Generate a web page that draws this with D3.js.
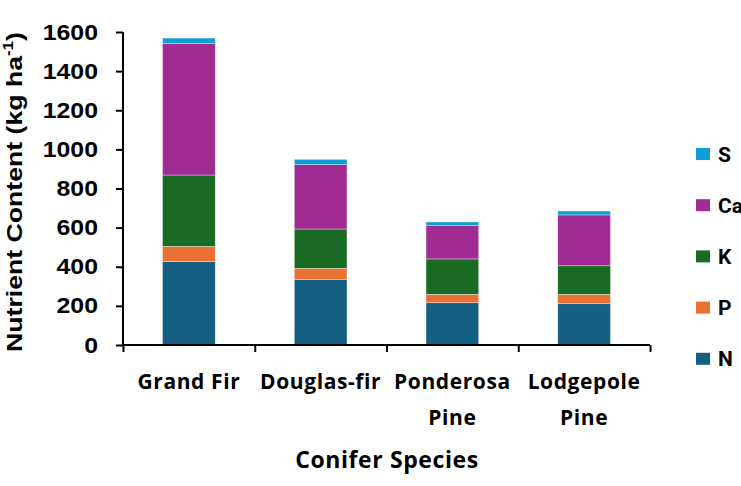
<!DOCTYPE html>
<html>
<head>
<meta charset="utf-8">
<script src="https://cdn.jsdelivr.net/npm/d3@7"></script>
<style>
  html, body { margin: 0; padding: 0; background: #fff; }
  svg { display: block; }
</style>
</head>
<body>
<svg id="chart" width="741" height="486"></svg>
<script>
const categories = ["Grand Fir", "Douglas-fir", "Ponderosa Pine", "Lodgepole Pine"];
const categoryLines = [["Grand Fir"], ["Douglas-fir"], ["Ponderosa", "Pine"], ["Lodgepole", "Pine"]];
const seriesNames = ["N", "P", "K", "Ca", "S"];
const N  = [426, 336, 216, 211];
const P  = [78, 56, 43, 48];
const K  = [365, 201, 181, 146];
const Ca = [673, 329, 170, 260];
const S  = [27, 27, 19, 20];
const yTicks = [0, 200, 400, 600, 800, 1000, 1200, 1400, 1600];
const colors = {N: "#156082", P: "#E97132", K: "#196B24", Ca: "#A02B93", S: "#0F9ED5"};

const seriesValues = {N, P, K, Ca, S};
const rows = categories.map((c, i) => {
  const r = {category: c};
  seriesNames.forEach(s => r[s] = seriesValues[s][i]);
  return r;
});

const svg = d3.select("#chart");
const x0 = 123, x1 = 650, yBottom = 345, yTop = 32;

const x = d3.scaleBand().domain(categories).range([x0, x1]).paddingInner(0.6).paddingOuter(0.3);
const xEdge = d3.scaleLinear().domain([0, categories.length]).range([x0, x1]);
const y = d3.scaleLinear().domain([0, 1600]).range([yBottom, yTop]);

const stack = d3.stack().keys(seriesNames)(rows);

svg.append("g").selectAll("g").data(stack).join("g")
  .attr("fill", d => colors[d.key])
  .selectAll("rect").data(d => d).join("rect")
  .attr("x", d => x(d.data.category))
  .attr("width", x.bandwidth())
  .attr("y", d => y(d[1]))
  .attr("height", d => y(d[0]) - y(d[1]))
  .attr("stroke", "#ffffff")
  .attr("stroke-opacity", 0.6)
  .attr("stroke-width", 0.6);

// Y axis
const sx = 1.13;
const yAxis = svg.append("g").attr("transform", `translate(${x0},0)`)
  .call(d3.axisLeft(y).tickValues(yTicks).tickSize(7).tickPadding(8).tickFormat(d3.format("d")));
yAxis.select(".domain").attr("stroke", "#000").attr("stroke-width", 2).attr("d", `M0,${yTop}V${yBottom}`);
yAxis.selectAll(".tick line").attr("stroke", "#000").attr("stroke-width", 2);
yAxis.selectAll(".tick text")
  .attr("fill", "#000")
  .style("font-family", "'Liberation Sans', Arial, sans-serif")
  .style("font-weight", "bold")
  .style("font-size", "22px")
  .attr("x", -25 / sx)
  .attr("transform", `scale(${sx},1)`);

// X axis (boundary ticks)
const xAxis = svg.append("g").attr("transform", `translate(0,${yBottom})`)
  .call(d3.axisBottom(xEdge).tickValues(d3.range(categories.length + 1)).tickSize(7).tickFormat(""));
xAxis.select(".domain").attr("stroke", "#000").attr("stroke-width", 2).attr("d", `M${x0},0H${x1}`);
xAxis.selectAll(".tick line").attr("stroke", "#000").attr("stroke-width", 2);

// Category labels
const labelG = svg.append("g");
categories.forEach((c, i) => {
  const cx = x(c) + x.bandwidth() / 2;
  const t = labelG.append("text")
    .attr("x", cx)
    .attr("y", 389)
    .attr("text-anchor", "middle")
    .style("font-family", "'Open Sans', 'Noto Sans', sans-serif")
    .style("font-weight", "bold")
    .style("font-size", "21px")
    .style("letter-spacing", "0.6px")
    .attr("fill", "#000");
  categoryLines[i].forEach((line, j) => {
    t.append("tspan").attr("x", cx).attr("dy", j === 0 ? 0 : 36).text(line);
  });
});

// X axis title
svg.append("text")
  .attr("x", 387).attr("y", 468)
  .attr("text-anchor", "middle")
  .style("font-family", "'Open Sans', 'Noto Sans', sans-serif")
  .style("font-weight", "bold")
  .style("font-size", "23px")
  .style("letter-spacing", "0.6px")
  .attr("fill", "#000")
  .text("Conifer Species");

// Y axis title
const yt = svg.append("text")
  .attr("text-anchor", "middle")
  .style("font-family", "'Liberation Sans', Arial, sans-serif")
  .style("font-weight", "bold")
  .style("font-size", "22px")
  .attr("fill", "#000");
yt.append("tspan").text("Nutrient Content (kg ha");
yt.append("tspan").attr("dy", -9).style("font-size", "14px").text("-1");
yt.append("tspan").attr("dy", 9).text(")");
const ytLen = yt.node().getBBox().width;
yt.attr("transform", `translate(22,192) rotate(-90) scale(${320 / ytLen},1)`);

// Legend (top to bottom: S, Ca, K, P, N)
const legendOrder = seriesNames.slice().reverse();
const lg = svg.append("g");
legendOrder.forEach((s, i) => {
  const cy = 154 + i * 51.2;
  lg.append("rect").attr("x", 696).attr("y", cy - 6).attr("width", 14).attr("height", 12).attr("fill", colors[s]);
  lg.append("text").attr("x", 718).attr("y", cy + 7.5)
    .style("font-family", "Roboto, 'Noto Sans', sans-serif")
    .style("font-weight", "bold")
    .style("font-size", "21px")
    .attr("fill", "#000")
    .text(s);
});
</script>
</body>
</html>
